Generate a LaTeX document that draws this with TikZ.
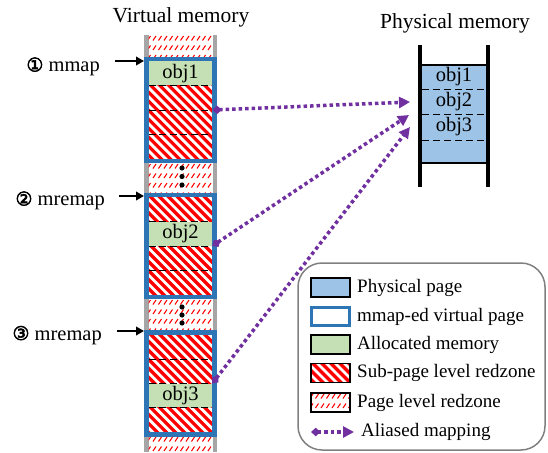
\documentclass[tikz,border=0pt]{standalone}
\usepackage{fontspec}
\setmainfont{Liberation Serif}
\newfontfamily\circfont[FakeBold=3]{DejaVu Sans}
\usetikzlibrary{arrows.meta}
\definecolor{vblue}{RGB}{46,117,182}
\definecolor{pblue}{RGB}{157,195,230}
\definecolor{agreen}{RGB}{197,224,180}
\definecolor{amp}{RGB}{112,48,160}
\definecolor{colgray}{RGB}{166,166,166}
\definecolor{lgray}{RGB}{128,128,128}
\newcommand\SubHatch[4]{\begin{scope}\clip (#1,#2) rectangle (#3,#4);
 \foreach \k in {-60,-51,...,570}{\draw[hl] (\k,#2-4) -- ++(95,95);}\end{scope}}
\newcommand\PageHatch[4]{\begin{scope}\clip (#1,#2) rectangle (#3,#4);
 \foreach \yy in {0,9.5,...,40}{\foreach \k in {0,5.5,...,70}{\draw[pl] (#1+\k-1,#2+\yy+5.5) -- ++(3,-4.5);}}\end{scope}}
\begin{document}
\begin{tikzpicture}[x=1pt,y=-1pt,
  hl/.style={red, line width=3.2pt},
  pl/.style={red, line width=1pt},
  rowdash/.style={black, line width=1pt, dash pattern=on 7pt off 3.5pt},
  pdash/.style={black, line width=1pt, dash pattern=on 7pt off 4pt},
  vbox/.style={draw=vblue, line width=4.5pt, minimum width=68pt, minimum height=102pt, inner sep=0pt},
  objbox/.style={fill=agreen, minimum width=64pt, minimum height=24.4pt, inner sep=0pt, font=\fontsize{20.5}{22}\selectfont},
  objtext/.style={inner sep=0pt, font=\fontsize{20.5}{22}\selectfont},
  titletext/.style={inner sep=0pt, font=\fontsize{21.5}{24}\selectfont},
  steplabel/.style={inner sep=0pt, anchor=base east, font=\fontsize{20.5}{22}\selectfont},
  blackarrow/.style={black, line width=2.8pt, -{Triangle[length=8pt,width=8.5pt]}},
  alias/.style={amp, line width=3.5pt, dash pattern=on 3.5pt off 3pt,
     {Diamond[length=9.5pt,width=8.5pt]}-{Triangle[length=11pt,width=11pt]}},
  swatch/.style={draw=black, line width=1.5pt, minimum width=39pt, minimum height=19pt, inner sep=0pt},
  legtext/.style={inner sep=0pt, anchor=west, font=\fontsize{19}{21}\selectfont},
  legendbox/.style={draw=lgray, line width=1.5pt, rounded corners=24pt, minimum width=247pt, minimum height=187pt, inner sep=0pt}
]
\useasboundingbox (0,0) rectangle (548,452);

% titles
\node[titletext] (vt) at (181,17) {Virtual memory};
\node[titletext] (pt) at (455,23) {Physical memory};

% virtual column
\fill[colgray] (144,35) rectangle (217,452);
\fill[white] (148.5,35) rectangle (212.5,452);
\PageHatch{148.5}{35}{212.5}{57}
\PageHatch{148.5}{163}{212.5}{193}
\PageHatch{148.5}{299}{212.5}{331}
\PageHatch{148.5}{436}{212.5}{452}

% box 1 contents
\node[objbox] (o1) at (180.5,73.4) {obj1};
\SubHatch{148.5}{85.6}{212.5}{158.75}
\draw[rowdash] (148.5,85.6) -- (212.5,85.6);
\draw[rowdash] (148.5,110) -- (212.5,110);
\draw[rowdash] (148.5,134.4) -- (212.5,134.4);

% box 2 contents
\SubHatch{148.5}{197.25}{212.5}{221.6}
\node[objbox] (o2) at (180.5,233.8) {obj2};
\SubHatch{148.5}{246}{212.5}{294.75}
\draw[rowdash] (148.5,221.6) -- (212.5,221.6);
\draw[rowdash] (148.5,246) -- (212.5,246);
\draw[rowdash] (148.5,270.4) -- (212.5,270.4);

% box 3 contents
\SubHatch{148.5}{334.75}{212.5}{383.5}
\node[objbox] (o3) at (180.5,395.7) {obj3};
\SubHatch{148.5}{407.9}{212.5}{432.25}
\draw[rowdash] (148.5,359.1) -- (212.5,359.1);
\draw[rowdash] (148.5,383.5) -- (212.5,383.5);
\draw[rowdash] (148.5,407.9) -- (212.5,407.9);

% dots
\fill (182,168) circle (2.6pt);
\fill (182,176.5) circle (2.6pt);
\fill (182,185) circle (2.6pt);
\fill (182,307) circle (2.6pt);
\fill (182,315) circle (2.6pt);
\fill (182,323) circle (2.6pt);

% mmap-ed boxes
\node[vbox] (b1) at (180.5,110) {};
\node[vbox] (b2) at (180.5,246) {};
\node[vbox] (b3) at (180.5,383.5) {};

% step labels
\node[steplabel] (m1) at (100,71.5) {{\circfont\fontsize{19}{20}\selectfont ①} mmap};
\node[steplabel] (m2) at (105,205.5) {{\circfont\fontsize{19}{20}\selectfont ②} mremap};
\node[steplabel] (m3) at (102,340) {{\circfont\fontsize{19}{20}\selectfont ③} mremap};
\coordinate (s1) at (115,61);
\coordinate (t1) at (144,61);
\coordinate (s2) at (119,196);
\coordinate (t2) at (144,196);
\coordinate (s3) at (117,331);
\coordinate (t3) at (144,331);
\draw[blackarrow] (s1) -- (t1);
\draw[blackarrow] (s2) -- (t2);
\draw[blackarrow] (s3) -- (t3);

% physical memory
\node[fill=pblue, draw=black, line width=1.5pt, minimum width=66pt, minimum height=98pt, inner sep=0pt] (pm) at (454,114) {};
\draw[pdash] (422,89) -- (486,89);
\draw[pdash] (422,114) -- (486,114);
\draw[pdash] (422,140) -- (486,140);
\draw[black, line width=4pt] (420,45) -- (420,187);
\draw[black, line width=4pt] (488,45) -- (488,187);
\node[objtext] (q1) at (454,77) {obj1};
\node[objtext] (q2) at (454,101.5) {obj2};
\node[objtext] (q3) at (454,127) {obj3};

% aliased mappings
\coordinate (a1) at ([xshift=-4.5pt]b1.east);
\coordinate (a2) at ([xshift=-4.5pt]b2.east);
\coordinate (a3) at ([xshift=-4.5pt]b3.east);
\coordinate (e1) at (410,102);
\coordinate (e2) at (409,115);
\coordinate (e3) at (410,127);
\draw[alias] (a1) -- (e1);
\draw[alias] (a2) -- (e2);
\draw[alias] (a3) -- (e3);

% legend
\node[legendbox] (lg) at (421.5,356.5) {};
\node[swatch, fill=pblue] (w1) at (330.5,287.5) {};
\node[swatch, draw=vblue, line width=3pt, fill=white, minimum width=37.5pt, minimum height=17.5pt] (w2) at (330.5,316.5) {};
\node[swatch, fill=agreen] (w3) at (330.5,344.5) {};
\SubHatch{311}{363.5}{350}{382.5}
\node[swatch] (w4) at (330.5,373) {};
\PageHatch{311}{393}{350}{412}
\node[swatch] (w5) at (330.5,402.5) {};
\coordinate (la) at (311,432);
\coordinate (lb) at (354,432);
\draw[alias] (la) -- (lb);
\node[legtext] (l1) at (357,287.5) {Physical page};
\node[legtext] (l2) at (357,316.5) {mmap-ed virtual page};
\node[legtext] (l3) at (357,344.5) {Allocated memory};
\node[legtext] (l4) at (357,373) {Sub-page level redzone};
\node[legtext] (l5) at (357,402.5) {Page level redzone};
\node[legtext] (l6) at (361,432) {Aliased mapping};
\end{tikzpicture}
\end{document}
